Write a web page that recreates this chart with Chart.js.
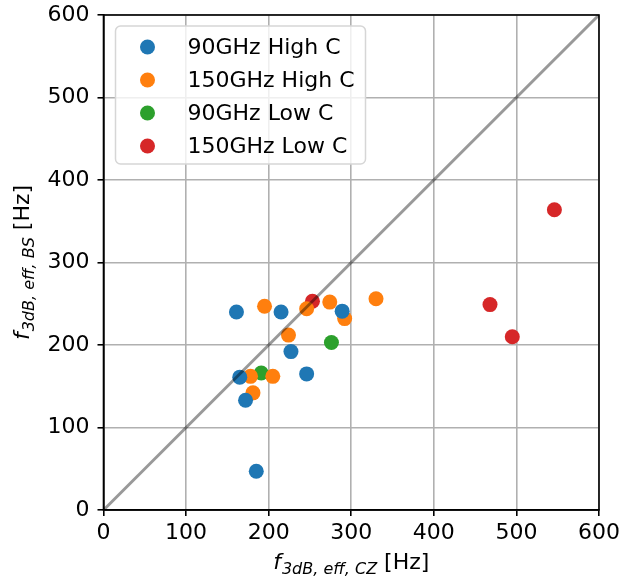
<!DOCTYPE html>
<html lang="en">
<head>
    <meta charset="UTF-8">
    <title>f3dB eff comparison</title>
    <script src="https://cdn.jsdelivr.net/npm/chart.js"></script>
    <style>
        html, body { margin: 0; padding: 0; background: #fff; }
        #wrap { width: 621px; height: 582px; }
    </style>
</head>
<body>
    <div id="wrap"><canvas id="myChart" width="621" height="582"></canvas></div>

    <script>
        // series labels and colours
        const seriesNames = ['90GHz High C', '150GHz High C', '90GHz Low C', '150GHz Low C'];
        const seriesColors = ['#1f77b4', '#ff7f0e', '#2ca02c', '#d62728'];

        // values: x = f3dB,eff,CZ, y = f3dB,eff,BS (Hz)
        const hi90X  = [161, 215, 289, 227, 165, 172, 246, 185];
        const hi90Y  = [240, 240, 241, 192, 161, 133, 165, 47];
        const hi150X = [195, 246, 274, 292, 224, 178, 205, 181, 330];
        const hi150Y = [247, 244, 252, 232, 212, 162, 162, 142, 256];
        const lo90X  = [191, 276];
        const lo90Y  = [166, 203];
        const lo150X = [253, 546, 468, 495];
        const lo150Y = [253, 364, 249, 210];

        const axisMin = 0;
        const axisMax = 600;
        const tickStep = 100;

        function toPoints(xs, ys) {
            return xs.map((x, i) => ({ x: x, y: ys[i] }));
        }

        const seriesX = [hi90X, hi150X, lo90X, lo150X];
        const seriesY = [hi90Y, hi150Y, lo90Y, lo150Y];

        const datasets = seriesNames.map((name, i) => ({
            type: 'scatter',
            label: name,
            data: toPoints(seriesX[i], seriesY[i]),
            backgroundColor: seriesColors[i],
            borderWidth: 0,
            pointRadius: 7.5,
            pointHoverRadius: 7.5,
            order: 1
        }));

        // y = x reference line
        datasets.push({
            type: 'line',
            label: 'y=x',
            data: [{ x: axisMin, y: axisMin }, { x: axisMax, y: axisMax }],
            borderColor: 'rgba(0,0,0,0.4)',
            borderWidth: 3,
            pointRadius: 0,
            fill: false,
            order: 0
        });

        const FONT = '"DejaVu Sans", sans-serif';

        // frame on all four sides
        const framePlugin = {
            id: 'frame',
            afterDraw(chart) {
                const a = chart.chartArea;
                const c = chart.ctx;
                c.save();
                c.strokeStyle = '#000';
                c.lineWidth = 1.6;
                c.strokeRect(a.left, a.top, a.right - a.left, a.bottom - a.top);
                c.restore();
            }
        };

        // legend box inside the plot, top left
        const legendPlugin = {
            id: 'innerLegend',
            afterDraw(chart) {
                const c = chart.ctx;
                const a = chart.chartArea;
                const x0 = a.left + 12, y0 = a.top + 11, w = 250, h = 138;
                c.save();
                c.fillStyle = 'rgba(255,255,255,0.8)';
                c.strokeStyle = '#d6d6d6';
                c.lineWidth = 1.5;
                c.beginPath();
                c.roundRect(x0, y0, w, h, 5);
                c.fill();
                c.stroke();
                c.font = '22px ' + FONT;
                c.textBaseline = 'middle';
                c.fillStyle = '#000';
                seriesNames.forEach((name, i) => {
                    const cy = y0 + 21 + i * 33;
                    c.beginPath();
                    c.fillStyle = seriesColors[i];
                    c.arc(x0 + 32, cy, 7.5, 0, Math.PI * 2);
                    c.fill();
                    c.fillStyle = '#000';
                    c.fillText(name, x0 + 72, cy + 1);
                });
                c.restore();
            }
        };

        // axis titles with italic subscript, drawn as text
        function drawMathTitle(c, sub) {
            c.textBaseline = 'alphabetic';
            c.font = 'italic 22px ' + FONT;
            const wf = c.measureText('f').width;
            c.font = 'italic 16px ' + FONT;
            const ws = c.measureText(sub).width;
            c.font = '22px ' + FONT;
            const wu = c.measureText(' [Hz]').width;
            const total = wf + 1 + ws + wu;
            let x = -total / 2;
            c.font = 'italic 22px ' + FONT;
            c.fillText('f', x, 0);
            x += wf + 1;
            c.font = 'italic 16px ' + FONT;
            c.fillText(sub, x, 5);
            x += ws;
            c.font = '22px ' + FONT;
            c.fillText(' [Hz]', x, 0);
        }

        const titlePlugin = {
            id: 'axisTitles',
            afterDraw(chart) {
                const c = chart.ctx;
                const a = chart.chartArea;
                c.save();
                c.fillStyle = '#000';
                c.translate((a.left + a.right) / 2, 569);
                drawMathTitle(c, '3dB, eff, CZ');
                c.restore();

                c.save();
                c.fillStyle = '#000';
                c.translate(29, (a.top + a.bottom) / 2);
                c.rotate(-Math.PI / 2);
                drawMathTitle(c, '3dB, eff, BS');
                c.restore();
            }
        };

        const gridOpts = {
            color: '#b0b0b0',
            lineWidth: 1.6,
            tickColor: '#000',
            tickLength: 6,
            drawTicks: true
        };

        // let the layout padding alone decide the plot edges
        function noOverflow(scale) {
            scale.paddingTop = 0;
            scale.paddingRight = 0;
            scale.paddingLeft = 0;
            scale.paddingBottom = 0;
        }

        const ctx = document.getElementById('myChart').getContext('2d');
        const chart = new Chart(ctx, {
            data: { datasets: datasets },
            options: {
                responsive: false,
                animation: false,
                layout: { padding: { top: 15, right: 22, left: 0, bottom: 0 } },
                plugins: {
                    legend: { display: false },
                    tooltip: { enabled: false },
                    title: { display: false }
                },
                scales: {
                    x: {
                        type: 'linear',
                        min: axisMin,
                        max: axisMax,
                        grid: gridOpts,
                        border: { color: '#000', width: 1.6 },
                        ticks: {
                            stepSize: tickStep,
                            color: '#000',
                            padding: 4,
                            maxRotation: 0,
                            font: { family: FONT, size: 22 }
                        },
                        afterFit(scale) { scale.height = 72; noOverflow(scale); }
                    },
                    y: {
                        type: 'linear',
                        min: axisMin,
                        max: axisMax,
                        grid: gridOpts,
                        border: { color: '#000', width: 1.6 },
                        ticks: {
                            stepSize: tickStep,
                            color: '#000',
                            padding: 8,
                            font: { family: FONT, size: 22 }
                        },
                        afterFit(scale) { scale.width = 103.5; noOverflow(scale); }
                    }
                }
            },
            plugins: [framePlugin, legendPlugin, titlePlugin]
        });
    </script>
</body>
</html>
